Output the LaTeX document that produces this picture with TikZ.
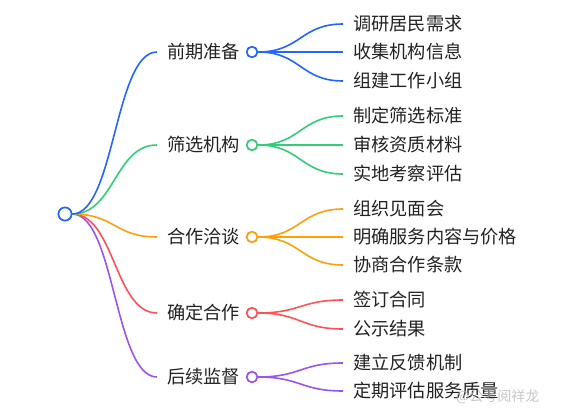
\documentclass[tikz,border=0pt]{standalone}
\usepackage{fontspec}
\setmainfont{Noto Sans CJK SC}
\usetikzlibrary{calc}
\definecolor{cblue}{HTML}{2266FF}
\definecolor{cgreen}{HTML}{33CC77}
\definecolor{corange}{HTML}{FF9F0A}
\definecolor{cred}{HTML}{FF5252}
\definecolor{cpurple}{HTML}{9955EE}
\definecolor{ctext}{HTML}{222222}
\newcommand\mmconn[3]{\draw[branch,#1] let \p1=(#2), \p2=(#3) in (\p1) .. controls ({(\x1+\x2)/2},\y1) and ({(\x1+\x2)/2},\y2) .. (\p2);}
\tikzset{
  branch/.style={line width=1.6pt},
  lbl/.style={anchor=base west,inner sep=0pt,font=\fontsize{18.2}{20}\selectfont,text=ctext,yshift=-6.5pt},
  dot/.style={circle,draw,fill=white,line width=1.6pt,minimum size=10.5pt,inner sep=0pt},
  rootdot/.style={circle,draw=cblue,fill=white,line width=1.6pt,minimum size=13pt,inner sep=0pt},
}
\begin{document}
\begin{tikzpicture}[x=1pt,y=-1pt]
\useasboundingbox (0,0) rectangle (575,417);
% root
\node[rootdot] (root) at (65,214) {};
% level 1
\node[lbl] (t1) at (167,52) {前期准备};
\node[lbl] (t2) at (167,145) {筛选机构};
\node[lbl] (t3) at (167,237) {合作洽谈};
\node[lbl] (t4) at (167,313) {确定合作};
\node[lbl] (t5) at (167,377) {后续监督};
\coordinate (e1) at (t1.west |- 0,52);
\coordinate (e1) at ([xshift=-10pt]e1);
\coordinate (e2) at (t2.west |- 0,145);
\coordinate (e2) at ([xshift=-10pt]e2);
\coordinate (e3) at (t3.west |- 0,237);
\coordinate (e3) at ([xshift=-10pt]e3);
\coordinate (e4) at (t4.west |- 0,313);
\coordinate (e4) at ([xshift=-10pt]e4);
\coordinate (e5) at (t5.west |- 0,377);
\coordinate (e5) at ([xshift=-10pt]e5);
% leaves
\node[lbl] (l11) at (353,24) {调研居民需求};
\node[lbl] (l12) at (353,52) {收集机构信息};
\node[lbl] (l13) at (353,81) {组建工作小组};
\node[lbl] (l21) at (353,116) {制定筛选标准};
\node[lbl] (l22) at (353,145) {审核资质材料};
\node[lbl] (l23) at (353,174) {实地考察评估};
\node[lbl] (l31) at (353,209) {组织见面会};
\node[lbl] (l32) at (353,237) {明确服务内容与价格};
\node[lbl] (l33) at (353,265) {协商合作条款};
\node[lbl] (l41) at (353,300) {签订合同};
\node[lbl] (l42) at (353,329) {公示结果};
\node[lbl] (l51) at (353,363) {建立反馈机制};
\node[lbl] (l52) at (353,391) {定期评估服务质量};
\foreach \n/\yy in {11/24,12/52,13/81,21/116,22/145,23/174,31/209,32/237,33/265,41/300,42/329,51/363,52/391}{
  \coordinate (f\n) at ([xshift=-10pt]l\n.base west |- 0,\yy);
}
% level-1 connectors
\mmconn{cpurple}{root.east}{e5}
\mmconn{cred}{root.east}{e4}
\mmconn{corange}{root.east}{e3}
\mmconn{cgreen}{root.east}{e2}
\mmconn{cblue}{root.east}{e1}
% level-1 dots
\node[dot,draw=cblue] (d1) at (252,52) {};
\node[dot,draw=cgreen] (d2) at (252,145) {};
\node[dot,draw=corange] (d3) at (252,237) {};
\node[dot,draw=cred] (d4) at (252,313) {};
\node[dot,draw=cpurple] (d5) at (252,377) {};
% leaf connectors
\mmconn{cblue}{d1.east}{f11}
\mmconn{cblue}{d1.east}{f12}
\mmconn{cblue}{d1.east}{f13}
\mmconn{cgreen}{d2.east}{f21}
\mmconn{cgreen}{d2.east}{f22}
\mmconn{cgreen}{d2.east}{f23}
\mmconn{corange}{d3.east}{f31}
\mmconn{corange}{d3.east}{f32}
\mmconn{corange}{d3.east}{f33}
\mmconn{cred}{d4.east}{f41}
\mmconn{cred}{d4.east}{f42}
\mmconn{cpurple}{d5.east}{f51}
\mmconn{cpurple}{d5.east}{f52}
% redraw dots on top
\node[dot,draw=cblue] at (d1) {};
\node[dot,draw=cgreen] at (d2) {};
\node[dot,draw=corange] at (d3) {};
\node[dot,draw=cred] at (d4) {};
\node[dot,draw=cpurple] at (d5) {};
\node[rootdot] at (root) {};
% watermark
\node[anchor=base west,inner sep=0pt,font=\fontsize{14}{16}\selectfont,text=gray!55,opacity=0.8] (wm) at (456,401) {@公考阅祥龙};
\end{tikzpicture}
\end{document}
